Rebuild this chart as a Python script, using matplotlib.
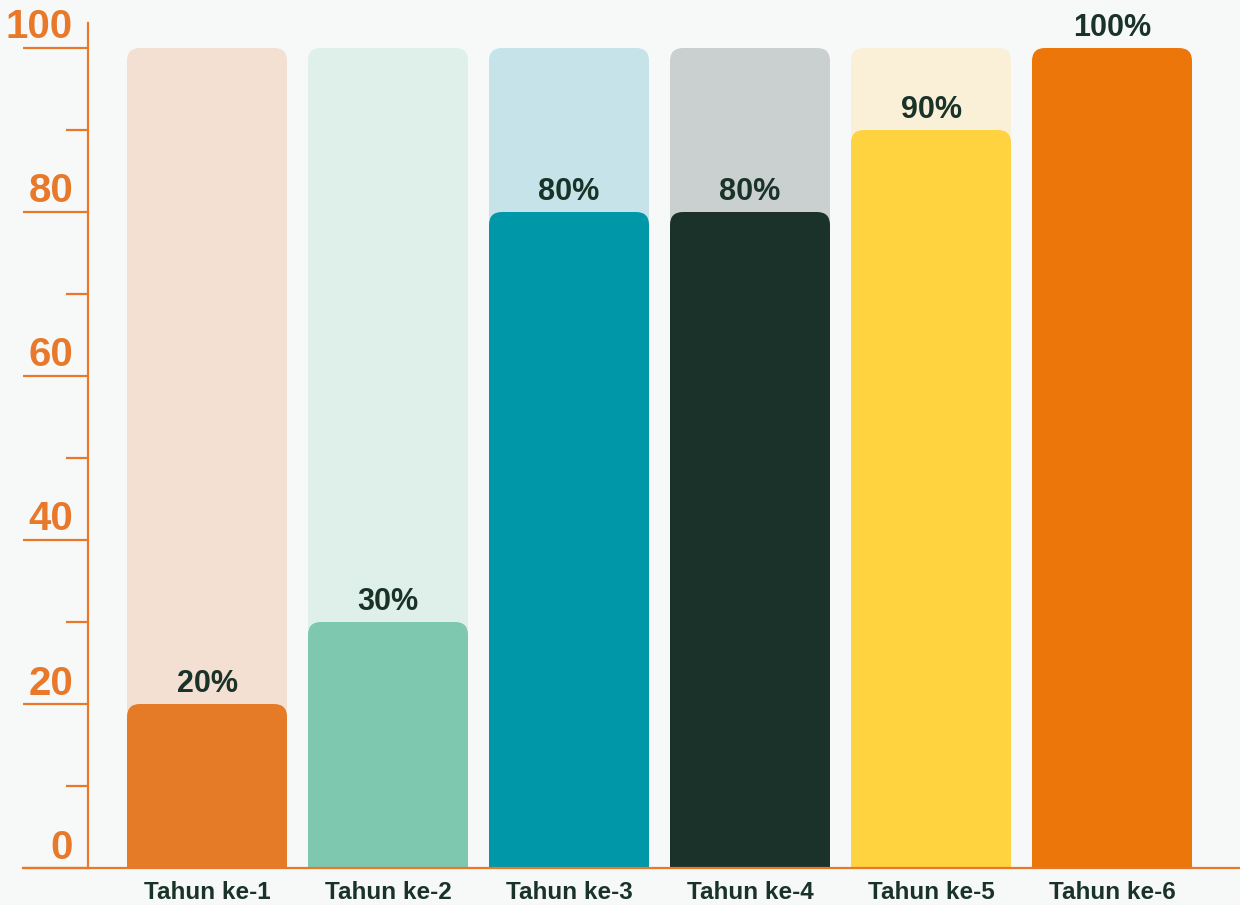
import numpy as np
import matplotlib.pyplot as plt
from matplotlib.patches import FancyBboxPatch, Rectangle

plt.rcParams['font.family'] = ['Liberation Sans', 'DejaVu Sans']

categories = ['Tahun ke-1', 'Tahun ke-2', 'Tahun ke-3', 'Tahun ke-4', 'Tahun ke-5', 'Tahun ke-6']
values = [20, 30, 80, 80, 90, 100]
totals = [100, 100, 100, 100, 100, 100]
fg_colors = ['#E57A27', '#7DC8AE', '#0097A9', '#1A3229', '#FFD23F', '#EC7609']
bg_colors = ['#F4E0D2', '#DFF0EA', '#C5E3E8', '#CACFCF', '#F9F0D7', '#F9F0D7']
yticks_major = [0, 20, 40, 60, 80, 100]
yticks_minor = [10, 30, 50, 70, 90]

axis_col = '#E8792A'
text_col = '#1A3329'
bg = '#F7F9F9'

fig = plt.figure(figsize=(12.4, 9.05), dpi=100, facecolor=bg)
ax = fig.add_axes([88/1240, 37/905, 1152/1240, 844.6/905])
ax.set_facecolor(bg)

x = np.arange(len(categories))
w = 160/181
ax.set_xlim(-119/181, 5 + 128/181)
ax.set_ylim(0, 103)

rx = 13/181
ry = 13/8.2

def rounded_bar(xc, h, color, z):
    left = xc - w/2
    p = FancyBboxPatch((left, 0), w, h,
                       boxstyle="round,pad=0,rounding_size=%f" % rx,
                       mutation_aspect=ry/rx, fc=color, ec='none', zorder=z)
    ax.add_patch(p)
    ax.add_patch(Rectangle((left, 0), w, h/2, fc=color, ec='none', zorder=z))

for i in range(len(categories)):
    if values[i] < totals[i]:
        rounded_bar(x[i], totals[i], bg_colors[i], 1)
    rounded_bar(x[i], values[i], fg_colors[i], 2)
    ax.text(x[i], values[i] + 1.5, f'{values[i]}%', ha='center', va='baseline',
            fontsize=22, fontweight='bold', color=text_col, zorder=3)

for s in ['top', 'right', 'bottom']:
    ax.spines[s].set_visible(False)
ax.spines['left'].set_color(axis_col)
ax.spines['left'].set_linewidth(1.6)

# baseline extending to the left of the axis
ax.plot([-184/181, 5 + 128/181], [0, 0], color=axis_col, lw=1.6, clip_on=False, zorder=4)

ax.set_yticks(yticks_major)
ax.set_yticks(yticks_minor, minor=True)
ax.tick_params(axis='y', which='major', length=47, width=1.6, color=axis_col, labelleft=False)
ax.tick_params(axis='y', which='minor', length=16, width=1.6, color=axis_col)
for v in yticks_major:
    ax.text(-134/181, v + 2.5, str(v), ha='right', va='center',
            fontsize=29, fontweight='bold', color=axis_col, clip_on=False)

ax.set_xticks(x)
ax.set_xticklabels(categories, fontsize=17.5, fontweight='bold', color=text_col)
ax.tick_params(axis='x', length=0, pad=9)

fig.savefig('out.png', dpi=100, facecolor=bg)
